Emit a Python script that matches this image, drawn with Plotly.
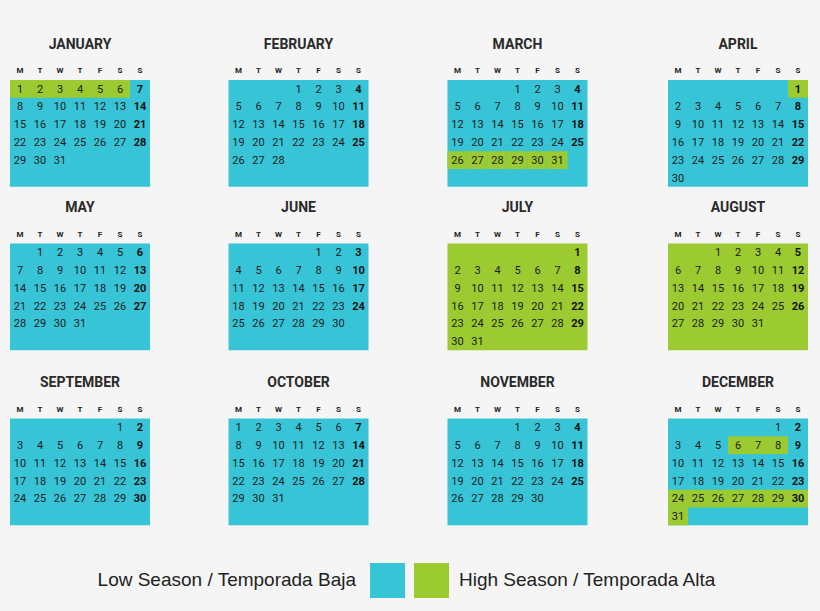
import calendar
import plotly.graph_objects as go

YEAR = 2018
MONTHS = ["JANUARY","FEBRUARY","MARCH","APRIL","MAY","JUNE","JULY","AUGUST",
          "SEPTEMBER","OCTOBER","NOVEMBER","DECEMBER"]
WEEKDAYS = ["M","T","W","T","F","S","S"]
HIGH_SEASON = {1: list(range(1, 7)), 3: list(range(26, 32)), 4: [1],
               7: list(range(1, 32)), 8: list(range(1, 32)),
               12: [6, 7, 8] + list(range(24, 32))}
LEGEND_LABELS = ["Low Season / Temporada Baja", "High Season / Temporada Alta"]

CYAN = "#36C4D6"
GREEN = "#9CCA31"
BG = "#F5F5F5"
COL_X = [10, 228.5, 447.5, 668]
ROW_Y = [80, 243.5, 418.5]
CW, CH = 20, 17.8

fig = go.Figure()
shapes = []
tx, ty, tt = [], [], []
bx, by, bt = [], [], []
hx, hy, ht = [], [], []
mx, my, mt = [], [], []

for m in range(1, 13):
    x0 = COL_X[(m - 1) % 4]
    y0 = ROW_Y[(m - 1) // 4]
    first, n = calendar.monthrange(YEAR, m)
    whole = len(HIGH_SEASON.get(m, [])) >= n
    shapes.append(dict(type="rect", x0=x0, x1=x0 + 7 * CW, y0=y0, y1=y0 + 6 * CH,
                       fillcolor=GREEN if whole else CYAN, line_width=0, layer="below"))
    mx.append(x0 + 3.5 * CW); my.append(y0 - 35); mt.append("<b>" + MONTHS[m - 1] + "</b>")
    for c, w in enumerate(WEEKDAYS):
        hx.append(x0 + (c + 0.5) * CW); hy.append(y0 - 9); ht.append("<b>" + w + "</b>")
    for d in range(1, n + 1):
        idx = first + d - 1
        c, r = idx % 7, idx // 7
        cx = x0 + c * CW; cy = y0 + r * CH
        if d in HIGH_SEASON.get(m, []) and not whole:
            shapes.append(dict(type="rect", x0=cx, x1=cx + CW, y0=cy, y1=cy + CH,
                               fillcolor=GREEN, line_width=0, layer="below"))
        if c == 6:
            bx.append(cx + CW / 2); by.append(cy + CH / 2 + 1); bt.append("<b>%d</b>" % d)
        else:
            tx.append(cx + CW / 2); ty.append(cy + CH / 2 + 1); tt.append(str(d))

fig.add_trace(go.Scatter(x=tx, y=ty, text=tt, mode="text",
                         textfont=dict(family="Roboto", size=11, color="#1b1b1b")))
fig.add_trace(go.Scatter(x=bx, y=by, text=bt, mode="text",
                         textfont=dict(family="Roboto", size=11, color="#111")))
fig.add_trace(go.Scatter(x=hx, y=hy, text=ht, mode="text",
                         textfont=dict(family="Roboto", size=8, color="#222")))
fig.add_trace(go.Scatter(x=mx, y=my, text=mt, mode="text",
                         textfont=dict(family="Roboto", size=14, color="#2a2a2a")))

# legend
shapes.append(dict(type="rect", x0=370, x1=405, y0=563, y1=598, fillcolor=CYAN, line_width=0))
shapes.append(dict(type="rect", x0=414, x1=449, y0=563, y1=598, fillcolor=GREEN, line_width=0))
fig.add_trace(go.Scatter(x=[356, 459], y=[581, 581], text=LEGEND_LABELS, mode="text",
                         textposition=["middle left", "middle right"],
                         textfont=dict(family="Liberation Sans", size=19, color="#222")))

fig.update_layout(width=820, height=611, margin=dict(l=0, r=0, t=0, b=0),
                  paper_bgcolor=BG, plot_bgcolor=BG, showlegend=False, shapes=shapes,
                  xaxis=dict(range=[0, 820], visible=False, fixedrange=True),
                  yaxis=dict(range=[611, 0], visible=False, fixedrange=True))
fig.write_html("out.html", config={"displayModeBar": False},
               post_script="document.body.style.margin='0';document.body.style.background='%s';" % BG)
